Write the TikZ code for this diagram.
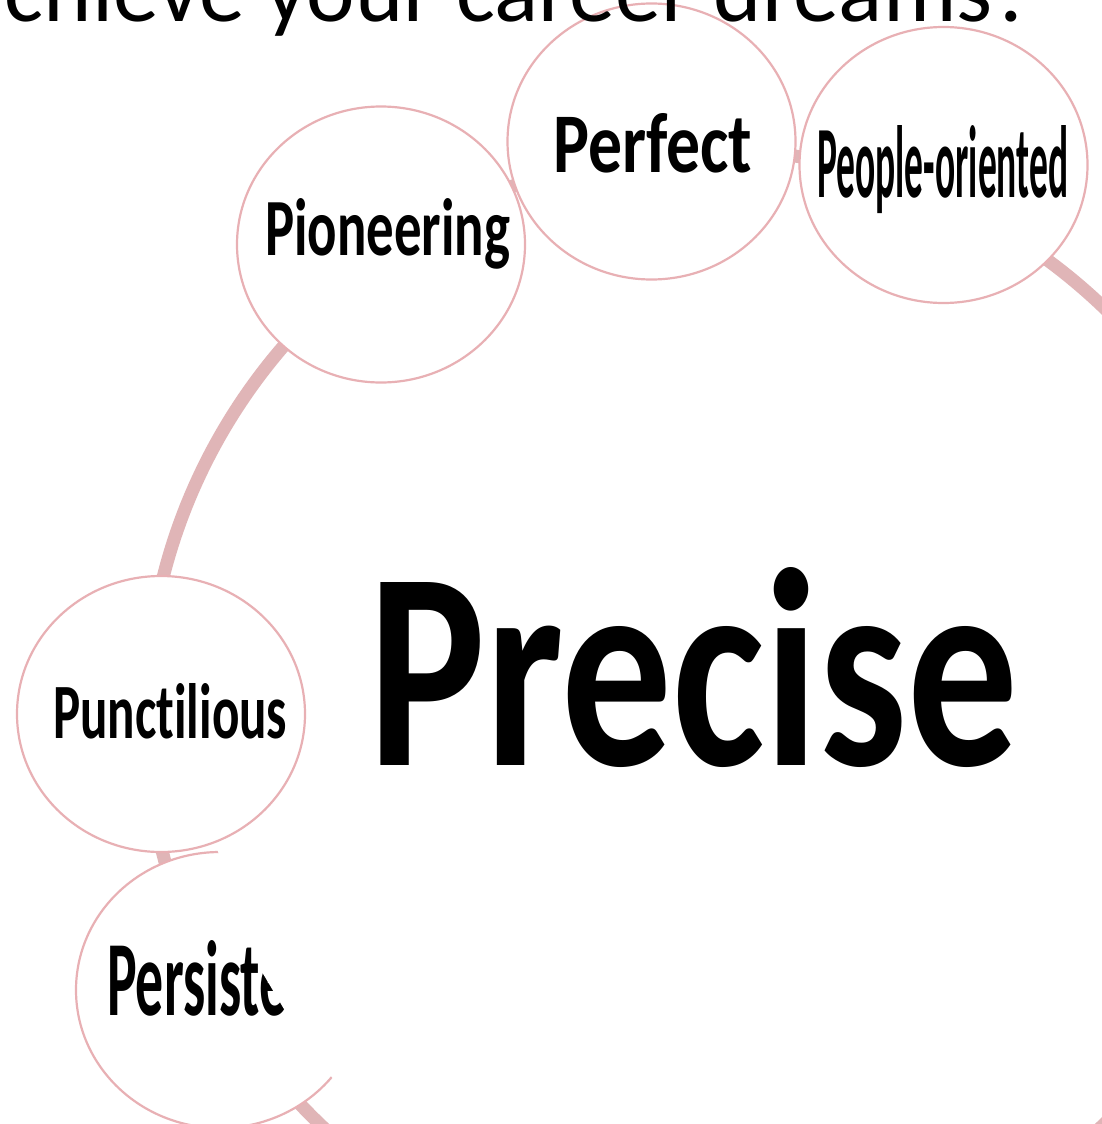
\documentclass[tikz,border=0pt]{standalone}
\usepackage{fontspec}
\setmainfont[Ligatures={NoCommon}]{Carlito}
\usepackage{graphicx}
\usetikzlibrary{shapes.geometric}
\definecolor{ringpink}{RGB}{224,181,183}
\definecolor{edgepink}{RGB}{232,176,180}
\begin{document}
\begin{tikzpicture}[x=1pt,y=-1pt,
  ringline/.style={draw=ringpink,line width=13pt},
  bubblefill/.style={ellipse,fill=white,minimum width=288pt,minimum height=276pt,inner sep=0pt},
  bubbleedge/.style={draw=edgepink,line width=2.2pt},
  word/.style={anchor=base west,inner sep=0pt,text=black}]
\clip (0,0) rectangle (1102,1124);
\fill[white] (0,0) rectangle (1102,1124);
% ring
\coordinate (hub) at (712,716);
\draw[ringline] (hub) circle [radius=566pt];
% bubbles
\node[bubblefill] (perfect)  at (651.5,141.5) {};
\node[bubblefill] (people)   at (943.5,165) {};
\node[bubblefill] (pioneer)  at (381,244.5) {};
\node[bubblefill] (punct)    at (161,714) {};
\node[bubblefill] (persist)  at (220,990) {};
\foreach \n in {perfect,people,pioneer,punct,persist}
  \draw[bubbleedge] (\n.center) ellipse [x radius=144pt, y radius=138pt];
% labels
\node[word] (tperfect) at (553,172) {\resizebox{199pt}{59pt}{\bfseries Perfect}};
\node[word] (tpeople)  at (817,197) {\resizebox{251pt}{72pt}{\bfseries People-oriented}};
\node[word] (tpioneer) at (265,255) {\resizebox{245pt}{57pt}{\bfseries Pioneering}};
\node[word] (tpunct)   at (53,738)  {\resizebox{234pt}{55pt}{\bfseries Punctilious}};
\node[word] (tpersist) at (107,1015) {\resizebox{229pt}{75pt}{\bfseries Persistent}};
% white cut over Persistent
\fill[white] (217,849) -- (240,910) -- (262,972) -- (300,1036) -- (334,1080) -- (600,1080) -- (600,849) -- cycle;
% centre word
\node[word] (precise) at (368,765) {\resizebox{650pt}{198pt}{\bfseries Precise}};
% title (cut at top)
\node[anchor=base east,inner sep=0pt,font=\fontsize{92}{92}\selectfont] (title) at (1035,22) {achieve your career dreams?};
\end{tikzpicture}
\end{document}
